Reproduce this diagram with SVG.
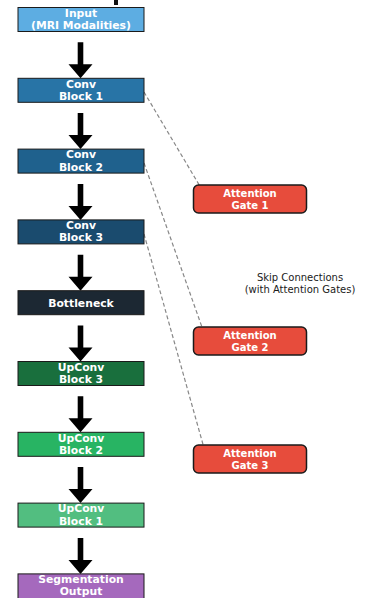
<svg xmlns="http://www.w3.org/2000/svg" width="368" height="598" viewBox="0 0 368 598">
<style>
.box{stroke:#1a1a1a;stroke-width:1}
.gate{fill:#e74c3c;stroke:#1a1a1a;stroke-width:1.5}
.t{font-family:"DejaVu Sans",sans-serif;font-weight:bold;font-size:10.8px;fill:#ffffff;text-anchor:middle}
.g{font-family:"DejaVu Sans",sans-serif;font-weight:bold;font-size:10px;fill:#ffffff;text-anchor:middle}
.s{font-family:"DejaVu Sans",sans-serif;font-size:10px;fill:#1a1a1a;text-anchor:middle}
.skip{stroke:#888888;stroke-width:1.2;stroke-dasharray:4,2.5;fill:none}
</style>
<defs>
<path id="arr" d="M-2.8,0 H2.8 V22 H12 L0,36 L-12,22 H-2.8 Z" fill="#000000"/>
</defs>
<rect width="368" height="598" fill="#ffffff"/>
<rect x="114" y="0" width="4" height="5" fill="#111111"/>
<g id="connectors">
<line class="skip" x1="144" y1="92" x2="201" y2="188"/>
<line class="skip" x1="144" y1="163" x2="203" y2="330"/>
<line class="skip" x1="144" y1="234" x2="204" y2="448"/>
<use href="#arr" x="80.5" y="42.3"/>
<use href="#arr" x="80.5" y="113.1"/>
<use href="#arr" x="80.5" y="183.9"/>
<use href="#arr" x="80.5" y="254.7"/>
<use href="#arr" x="80.5" y="325.5"/>
<use href="#arr" x="80.5" y="396.3"/>
<use href="#arr" x="80.5" y="467.1"/>
<use href="#arr" x="80.5" y="537.9"/>
</g>
<g id="input">
<rect class="box" x="18" y="7.5" width="126" height="24" fill="#5dade2"/>
<text class="t" x="81" y="16.5">Input</text>
<text class="t" x="81" y="28.5">(MRI Modalities)</text>
</g>
<g id="conv1">
<rect class="box" x="18" y="78.3" width="126" height="24" fill="#2874a6"/>
<text class="t" x="81" y="87.5">Conv</text>
<text class="t" x="81" y="99.8">Block 1</text>
</g>
<g id="conv2">
<rect class="box" x="18" y="149.1" width="126" height="24" fill="#1f618d"/>
<text class="t" x="81" y="158.3">Conv</text>
<text class="t" x="81" y="170.6">Block 2</text>
</g>
<g id="conv3">
<rect class="box" x="18" y="219.9" width="126" height="24" fill="#1a4b6e"/>
<text class="t" x="81" y="229.1">Conv</text>
<text class="t" x="81" y="241.4">Block 3</text>
</g>
<g id="bottleneck">
<rect class="box" x="18" y="290.7" width="126" height="24" fill="#1c2833"/>
<text class="t" x="81" y="306.5">Bottleneck</text>
</g>
<g id="upconv3">
<rect class="box" x="18" y="361.5" width="126" height="24" fill="#196f3d"/>
<text class="t" x="81" y="370.7">UpConv</text>
<text class="t" x="81" y="383">Block 3</text>
</g>
<g id="upconv2">
<rect class="box" x="18" y="432.3" width="126" height="24" fill="#28b463"/>
<text class="t" x="81" y="441.5">UpConv</text>
<text class="t" x="81" y="453.8">Block 2</text>
</g>
<g id="upconv1">
<rect class="box" x="18" y="503.1" width="126" height="24" fill="#52be80"/>
<text class="t" x="81" y="512.3">UpConv</text>
<text class="t" x="81" y="524.6">Block 1</text>
</g>
<g id="output">
<rect class="box" x="18" y="573.9" width="126" height="26" fill="#a569bd"/>
<text class="t" x="81" y="582.8">Segmentation</text>
<text class="t" x="81" y="595">Output</text>
</g>
<g id="gate1">
<rect class="gate" x="193.5" y="185" width="113" height="28" rx="5"/>
<text class="g" x="250" y="197">Attention</text>
<text class="g" x="250" y="209">Gate 1</text>
</g>
<g id="gate2">
<rect class="gate" x="193.5" y="327" width="113" height="28" rx="5"/>
<text class="g" x="250" y="339">Attention</text>
<text class="g" x="250" y="351">Gate 2</text>
</g>
<g id="gate3">
<rect class="gate" x="193.5" y="445" width="113" height="28" rx="5"/>
<text class="g" x="250" y="457">Attention</text>
<text class="g" x="250" y="469">Gate 3</text>
</g>
<g id="label">
<text class="s" x="300" y="280.5">Skip Connections</text>
<text class="s" x="300" y="292.5">(with Attention Gates)</text>
</g>
</svg>
